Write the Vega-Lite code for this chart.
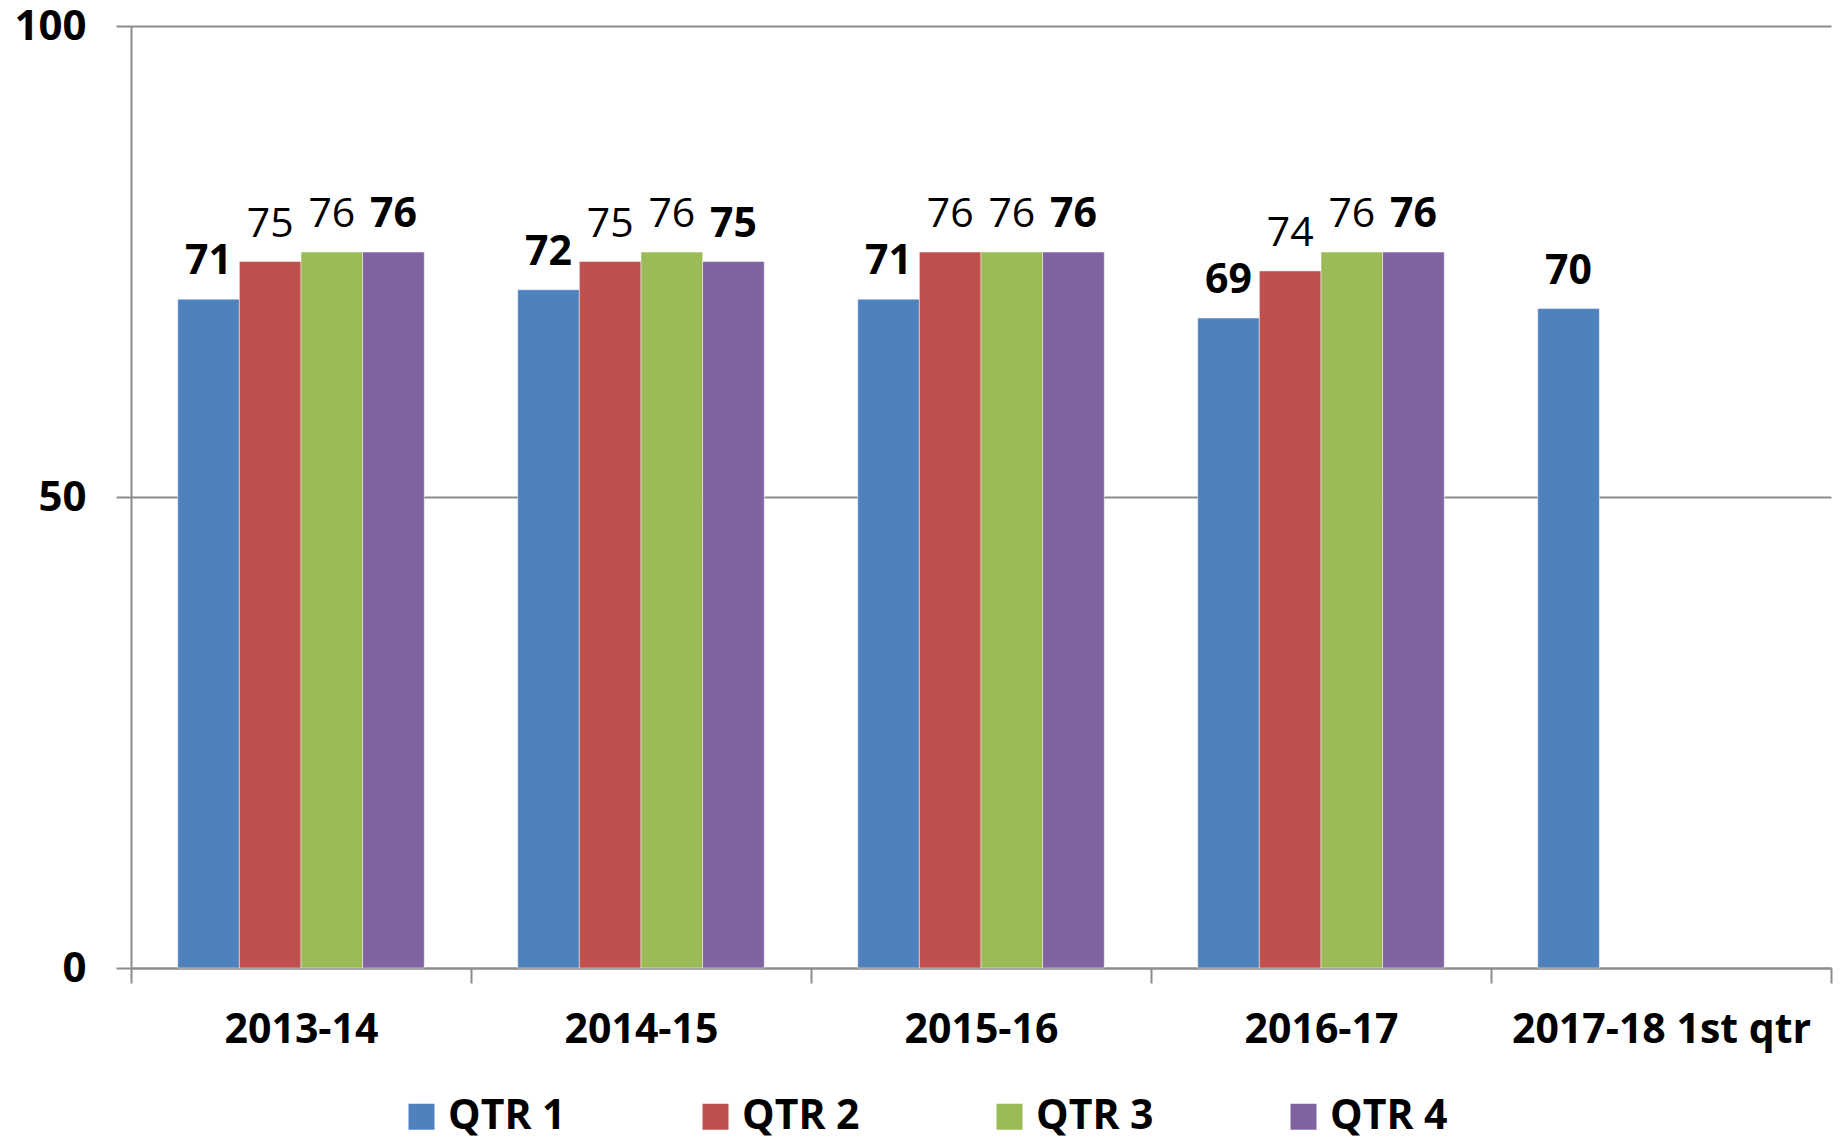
{
  "$schema": "https://vega.github.io/schema/vega-lite/v6.json",
  "autosize": {"type": "none"},
  "padding": {"left": 131, "top": 26, "right": 10, "bottom": 169},
  "width": 1700,
  "height": 942,
  "background": "white",
  "config": {
    "font": "Open Sans",
    "view": {"stroke": null}
  },
  "data": {
    "values": [
      {"year": "2013-14", "quarter": "QTR 1", "value": 71},
      {"year": "2013-14", "quarter": "QTR 2", "value": 75},
      {"year": "2013-14", "quarter": "QTR 3", "value": 76},
      {"year": "2013-14", "quarter": "QTR 4", "value": 76},
      {"year": "2014-15", "quarter": "QTR 1", "value": 72},
      {"year": "2014-15", "quarter": "QTR 2", "value": 75},
      {"year": "2014-15", "quarter": "QTR 3", "value": 76},
      {"year": "2014-15", "quarter": "QTR 4", "value": 75},
      {"year": "2015-16", "quarter": "QTR 1", "value": 71},
      {"year": "2015-16", "quarter": "QTR 2", "value": 76},
      {"year": "2015-16", "quarter": "QTR 3", "value": 76},
      {"year": "2015-16", "quarter": "QTR 4", "value": 76},
      {"year": "2016-17", "quarter": "QTR 1", "value": 69},
      {"year": "2016-17", "quarter": "QTR 2", "value": 74},
      {"year": "2016-17", "quarter": "QTR 3", "value": 76},
      {"year": "2016-17", "quarter": "QTR 4", "value": 76},
      {"year": "2017-18 1st qtr", "quarter": "QTR 1", "value": 70}
    ]
  },
  "encoding": {
    "x": {
      "field": "year",
      "type": "nominal",
      "sort": null,
      "scale": {"paddingInner": 0, "paddingOuter": 0},
      "axis": {
        "title": null,
        "labelAngle": 0,
        "labelFont": "Open Sans",
        "labelFontSize": 41,
        "labelFontWeight": "bold",
        "labelColor": "black",
        "labelBaseline": "middle",
        "labelPadding": 47,
        "labelLimit": 500,
        "labelOverlap": false,
        "tickBand": "extent",
        "tickSize": 15,
        "tickColor": "#8c8c8c",
        "tickWidth": 2,
        "domainColor": "#8c8c8c",
        "domainWidth": 2,
        "grid": false
      }
    },
    "xOffset": {
      "field": "quarter",
      "type": "nominal",
      "sort": ["QTR 1", "QTR 2", "QTR 3", "QTR 4"],
      "scale": {"paddingInner": 0, "paddingOuter": 0.758}
    },
    "y": {
      "field": "value",
      "type": "quantitative",
      "scale": {"domain": [0, 100], "nice": false},
      "axis": {
        "title": null,
        "values": [0, 50, 100],
        "labelFont": "Open Sans",
        "labelFontSize": 42,
        "labelFontWeight": "bold",
        "labelColor": "black",
        "labelPadding": 30,
        "tickSize": 15,
        "tickColor": "#8c8c8c",
        "tickWidth": 2,
        "domainColor": "#8c8c8c",
        "domainWidth": 2,
        "grid": true,
        "gridColor": "#8c8c8c",
        "gridWidth": 2
      }
    }
  },
  "layer": [
    {
      "mark": {"type": "bar", "stroke": "#ffffff", "strokeWidth": 0.8, "strokeOpacity": 0.6},
      "encoding": {
        "color": {
          "field": "quarter",
          "type": "nominal",
          "scale": {
            "domain": ["QTR 1", "QTR 2", "QTR 3", "QTR 4"],
            "range": ["#4F81BD", "#C0504D", "#9BBB59", "#8064A2"]
          },
          "legend": {
            "title": null,
            "orient": "none",
            "direction": "horizontal",
            "legendX": 270,
            "legendY": 1070,
            "symbolType": "square",
            "symbolSize": 676,
            "symbolStrokeWidth": 0,
            "labelFont": "Open Sans",
            "labelFontSize": 41,
            "labelFontWeight": "bold",
            "labelColor": "black",
            "labelOffset": 6,
            "columnPadding": 129,
            "labelLimit": 300
          }
        }
      }
    },
    {
      "transform": [{"filter": "datum.quarter === 'QTR 1' || datum.quarter === 'QTR 4'"}],
      "mark": {"type": "text", "baseline": "alphabetic", "dy": -25, "fontSize": 41, "fontWeight": "bold", "font": "Open Sans", "color": "black"},
      "encoding": {"text": {"field": "value", "type": "quantitative"}}
    },
    {
      "transform": [{"filter": "datum.quarter === 'QTR 2' || datum.quarter === 'QTR 3'"}],
      "mark": {"type": "text", "baseline": "alphabetic", "dy": -25, "fontSize": 41, "fontWeight": "normal", "font": "Open Sans", "color": "black"},
      "encoding": {"text": {"field": "value", "type": "quantitative"}}
    }
  ]
}
